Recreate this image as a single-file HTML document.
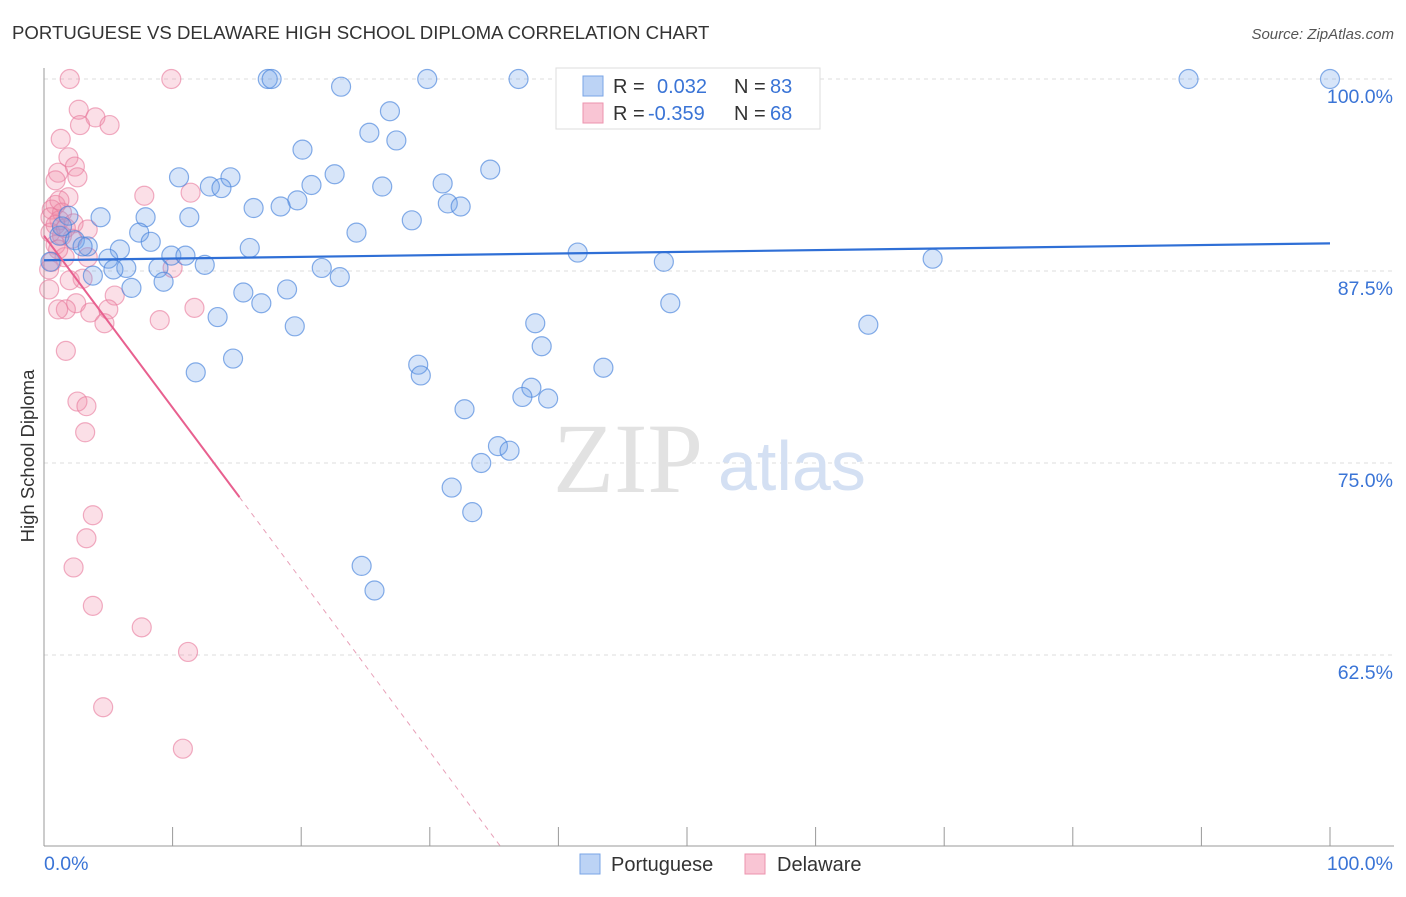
<!DOCTYPE html>
<html><head><meta charset="utf-8"><style>
body{margin:0;background:#fff;font-family:"Liberation Sans",sans-serif}
</style></head><body>
<svg id="c" width="1406" height="892" style="font-family:'Liberation Sans',sans-serif">
<text x="12" y="39" font-size="18.6" fill="#333">PORTUGUESE VS DELAWARE HIGH SCHOOL DIPLOMA CORRELATION CHART</text>
<text x="1394" y="39" font-size="15" fill="#555" font-style="italic" text-anchor="end">Source: ZipAtlas.com</text>
<text x="0" y="0" transform="translate(34,456) rotate(-90)" font-size="18.5" fill="#333" text-anchor="middle">High School Diploma</text>
<g id="grid"></g>
<text x="553" y="492" font-size="100" fill="#e2e2e2" style="font-family:'Liberation Serif',serif">ZIP</text>
<text x="718" y="490" font-size="70" fill="#d4e0f3">atlas</text>
<g id="pts"></g>
<g id="lines"></g>
<g id="legend">
<rect x="556" y="68" width="264" height="61" fill="#fff" stroke="#ddd"/>
<rect x="583" y="76" width="20" height="20" fill="#bcd3f5" stroke="#7aa5e6"/>
<rect x="583" y="103" width="20" height="20" fill="#f9c5d4" stroke="#ec93ae"/>
<text x="613" y="93" font-size="20" fill="#333">R =</text>
<text x="657" y="93" font-size="20" fill="#3a74d6">0.032</text>
<text x="734" y="93" font-size="20" fill="#333">N =</text>
<text x="770" y="93" font-size="20" fill="#3a74d6">83</text>
<text x="613" y="120" font-size="20" fill="#333">R =</text>
<text x="648" y="120" font-size="20" fill="#3a74d6">-0.359</text>
<text x="734" y="120" font-size="20" fill="#333">N =</text>
<text x="770" y="120" font-size="20" fill="#3a74d6">68</text>
</g>
<g>
<rect x="580" y="854" width="20" height="20" fill="#bcd3f5" stroke="#7aa5e6"/>
<text x="611" y="871" font-size="20" fill="#333">Portuguese</text>
<rect x="745" y="854" width="20" height="20" fill="#f9c5d4" stroke="#ec93ae"/>
<text x="777" y="871" font-size="20" fill="#333">Delaware</text>
</g>
</svg>
<script>
const blueX=[17.4,17.7,23.1,29.8,36.9,45.6,51.4,89.0,100,26.9,25.3,27.4,20.1,10.5,14.5,12.9,13.8,22.6,20.8,19.7,26.3,31.0,34.7,31.4,32.4,16.3,18.4,28.6,4.4,1.9,7.9,11.3,7.4,24.3,8.3,1.2,2.4,3.4,5.9,16.0,9.9,11.0,5.0,0.5,41.5,48.2,69.1,12.5,6.4,5.4,3.8,8.9,21.6,23.0,9.3,6.8,15.5,18.9,16.9,48.7,13.5,19.5,38.2,64.1,38.7,14.7,29.1,11.8,29.3,43.5,37.9,37.2,39.2,32.7,35.3,36.2,34.0,31.7,33.3,24.7,25.7,3.0,1.4];
const blueY=[100,100,99.5,100,100,100,100,100,100,97.9,96.5,96.0,95.4,93.6,93.6,93.0,92.9,93.8,93.1,92.1,93.0,93.2,94.1,91.9,91.7,91.6,91.7,90.8,91.0,91.1,91.0,91.0,90.0,90.0,89.4,89.8,89.5,89.1,88.9,89.0,88.5,88.5,88.3,88.1,88.7,88.1,88.3,87.9,87.7,87.6,87.2,87.7,87.7,87.1,86.8,86.4,86.1,86.3,85.4,85.4,84.5,83.9,84.1,84.0,82.6,81.8,81.4,80.9,80.7,81.2,79.9,79.3,79.2,78.5,76.1,75.8,75.0,73.4,71.8,68.3,66.7,89.1,90.4];
const pinkX=[2.0,9.9,2.7,4.0,2.8,5.1,1.3,1.9,2.4,1.1,2.6,0.9,7.8,11.4,1.9,0.9,0.6,1.4,1.2,2.3,3.4,0.5,1.4,2.2,0.9,1.6,0.4,3.4,3.0,2.0,0.4,5.5,2.5,1.7,1.1,3.6,5.0,11.7,4.7,9.0,1.7,2.6,3.3,3.2,3.8,3.3,2.3,3.8,7.6,11.2,4.6,10.8,10.0,1.2,0.5,0.9,1.7,1.1,0.6];
const pinkY=[100,100,98.0,97.5,97.0,97.0,96.1,94.9,94.3,93.9,93.6,93.4,92.4,92.6,92.3,91.8,91.5,91.3,90.8,90.6,90.2,90.0,89.8,89.6,89.2,88.4,87.6,88.4,87.0,86.9,86.3,85.9,85.4,85.0,85.0,84.8,85.0,85.1,84.1,84.3,82.3,79.0,78.7,77.0,71.6,70.1,68.2,65.7,64.3,62.7,59.1,56.4,87.7,92.1,91.0,90.5,90.3,88.9,88.1];
const blueTrend=[88.2,89.3];
const pinkTrend=[89.8,-1.12,15.2];
const yTicks=[100,87.5,75,62.5];
const yTickLabels=["100.0%","87.5%","75.0%","62.5%"];
const xTicks=[0,10,20,30,40,50,60,70,80,90,100];
const NS="http://www.w3.org/2000/svg";
const X=v=>44+v*12.86, Y=v=>79+(100-v)*15.36;
const g=document.getElementById('grid');
function mk(tag,at,par){const e=document.createElementNS(NS,tag);for(const k in at)e.setAttribute(k,at[k]);par.appendChild(e);return e;}
yTicks.forEach((t,i)=>{
 const l=mk('line',{x1:44,x2:1394,y1:Y(t),y2:Y(t),stroke:'#ddd','stroke-dasharray':'4,4'},g);
 
 
 const tx=mk('text',{x:1393,y:Y(t)+24,'font-size':19.5,fill:'#3a74d6','text-anchor':'end'},g);
 tx.textContent=yTickLabels[i];
 
 
});
const ax=mk('line',{x1:44,x2:44,y1:68,y2:846,stroke:'#999'},g);


const bx=mk('line',{x1:44,x2:1394,y1:846,y2:846,stroke:'#999'},g);


xTicks.forEach(t=>{const l=mk('line',{x1:X(t),x2:X(t),y1:827,y2:846,stroke:'#999'},g);
 
 });
const x0=mk('text',{x:44,y:870,'font-size':19.5,fill:'#3a74d6'},g);x0.textContent='0.0%';


const x1=mk('text',{x:1393,y:870,'font-size':19.5,fill:'#3a74d6','text-anchor':'end'},g);x1.textContent='100.0%';


const p=document.getElementById('pts');
pinkX.forEach((v,i)=>{const c=mk('circle',{cx:X(v),cy:Y(pinkY[i]),r:9.5,fill:'rgba(242,140,170,0.28)',stroke:'rgba(232,120,155,0.6)','stroke-width':1.2},p);
 
 });
blueX.forEach((v,i)=>{const c=mk('circle',{cx:X(v),cy:Y(blueY[i]),r:9.5,fill:'rgba(110,160,235,0.28)',stroke:'rgba(70,130,220,0.65)','stroke-width':1.2},p);
 
 });
const L=document.getElementById('lines');
const bl=mk('line',{x1:X(0),y1:Y(blueTrend[0]),x2:X(100),y2:Y(blueTrend[1]),stroke:'#2f6fd6','stroke-width':2.2},L);


const pf=x=>pinkTrend[0]+pinkTrend[1]*x;
const xe=(pinkTrend[0]-50)/-pinkTrend[1];
const ps=mk('line',{x1:X(0),y1:Y(pf(0)),x2:X(pinkTrend[2]),y2:Y(pf(pinkTrend[2])),stroke:'#e8608f','stroke-width':2},L);


const pd=mk('line',{x1:X(pinkTrend[2]),y1:Y(pf(pinkTrend[2])),x2:X(xe),y2:Y(50),stroke:'#e8a0b8','stroke-width':1,'stroke-dasharray':'5,5'},L);


</script>
</body></html>
